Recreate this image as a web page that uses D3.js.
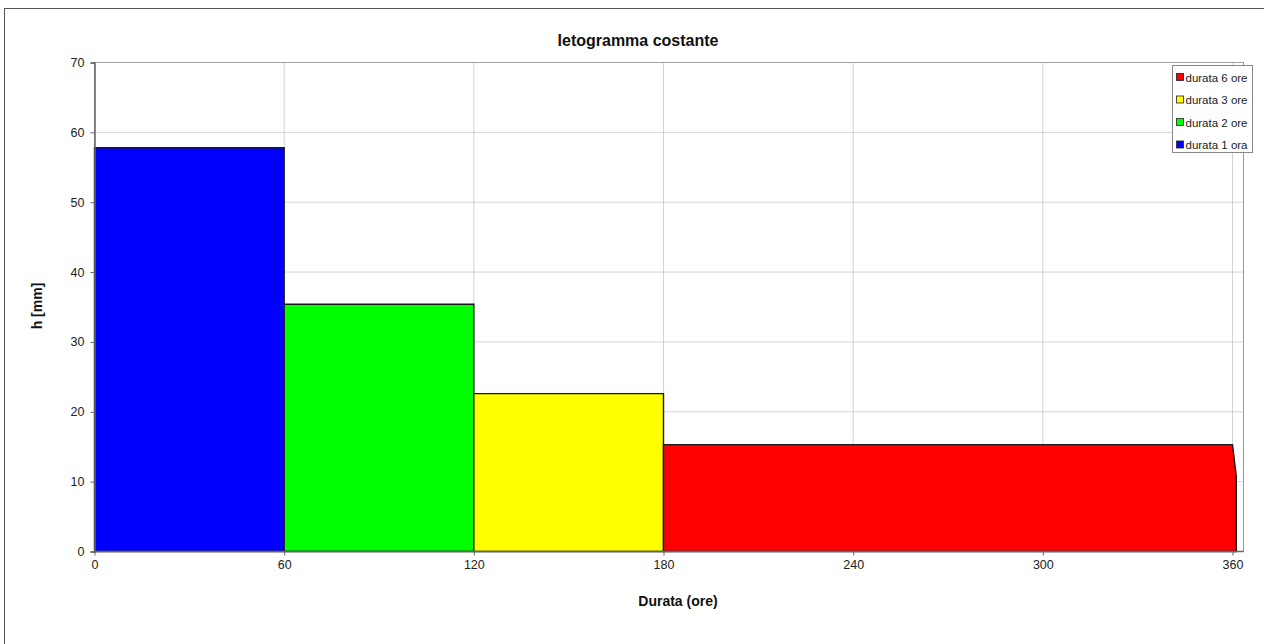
<!DOCTYPE html>
<html>
<head>
<meta charset="utf-8">
<script src="https://cdn.jsdelivr.net/npm/d3@7/dist/d3.min.js"></script>
<style>
  html, body { margin: 0; padding: 0; background: #fff; }
  svg { display: block; font-family: "Liberation Sans", Arial, sans-serif; }
</style>
</head>
<body>
<svg id="chart" width="1264" height="644"></svg>
<script>
// Rainfall hyetograph: one constant-intensity block per duration
const seriesNames = ["durata 1 ora", "durata 2 ore", "durata 3 ore", "durata 6 ore"];
const seriesColors = ["#0000ff", "#00ff00", "#ffff00", "#ff0000"];
// block outlines as [minutes, mm] vertices
const block1 = [[0, 0], [0, 57.8], [60, 57.8], [60, 0]];
const block2 = [[60, 0], [60, 35.4], [120, 35.4], [120, 0]];
const block3 = [[120, 0], [120, 22.6], [180, 22.6], [180, 0]];
const block6 = [[180, 0], [180, 15.3], [360, 15.3], [361.2, 10.8], [361.2, 0]];
const blocks = [block1, block2, block3, block6];
const legendOrder = [3, 2, 1, 0];
const xTicks = [0, 60, 120, 180, 240, 300, 360];
const yTicks = [0, 10, 20, 30, 40, 50, 60, 70];

const svg = d3.select("#chart");

// outer chart frame
svg.append("rect")
  .attr("x", 4.5).attr("y", 8.5).attr("width", 1270).attr("height", 650)
  .attr("fill", "#fff").attr("stroke", "#555").attr("stroke-width", 1);

const x = d3.scaleLinear().domain([0, 360]).range([94.5, 1232.5]);
const y = d3.scaleLinear().domain([0, 70]).range([551.5, 62.5]);
const plotRight = 1243.5;

// plot area frame
svg.append("rect")
  .attr("x", x(0)).attr("y", y(70))
  .attr("width", plotRight - x(0)).attr("height", y(0) - y(70))
  .attr("fill", "#fff").attr("stroke", "#999").attr("stroke-width", 1);

// gridlines
const grid = svg.append("g").attr("stroke", "#a8a8a8").attr("stroke-dasharray", "1,1");
grid.selectAll("line.h").data(yTicks.filter(d => d > 0)).join("line")
  .attr("x1", x(0)).attr("x2", plotRight)
  .attr("y1", d => y(d)).attr("y2", d => y(d));
grid.selectAll("line.v").data(xTicks.filter(d => d > 0)).join("line")
  .attr("x1", d => x(d)).attr("x2", d => x(d))
  .attr("y1", y(0)).attr("y2", y(70));

// blocks
const line = d3.line().x(d => x(d[0])).y(d => y(d[1]));
svg.append("g").selectAll("path").data(blocks).join("path")
  .attr("d", d => line(d) + "Z")
  .attr("fill", (d, i) => seriesColors[i])
  .attr("stroke", "#1a1a1a").attr("stroke-width", 1.4);

// axes
const xAxis = d3.axisBottom(x).tickValues(xTicks).tickSize(4).tickPadding(5);
const gx = svg.append("g").attr("transform", `translate(0,${y(0)})`).call(xAxis);
const yAxis = d3.axisLeft(y).tickValues(yTicks).tickSize(4).tickPadding(6);
const gy = svg.append("g").attr("transform", `translate(${x(0)},0)`).call(yAxis);
[gx, gy].forEach(g => {
  g.select(".domain").attr("stroke", "#666").attr("stroke-width", 1.5);
  g.selectAll(".tick line").attr("stroke", "#666");
  g.selectAll(".tick text").attr("fill", "#222")
    .style("font-family", "'Liberation Sans', Arial, sans-serif").style("font-size", "12.5px");
});
gx.select(".domain").attr("d", `M${x(0)},0H${plotRight}`);

// titles
svg.append("text").attr("x", 638).attr("y", 46).attr("text-anchor", "middle")
  .attr("font-size", "16px").attr("font-weight", "bold").attr("fill", "#111")
  .text("Ietogramma costante");
svg.append("text").attr("x", 678).attr("y", 606).attr("text-anchor", "middle")
  .attr("font-size", "14px").attr("font-weight", "bold").attr("fill", "#111")
  .text("Durata (ore)");
svg.append("text").attr("transform", "translate(42,306) rotate(-90)").attr("text-anchor", "middle")
  .attr("font-size", "14px").attr("font-weight", "bold").attr("fill", "#111")
  .text("h [mm]");

// legend
const lg = svg.append("g").attr("transform", "translate(1172.5,65.5)");
lg.append("rect").attr("width", 80).attr("height", 87)
  .attr("fill", "#fff").attr("stroke", "#888");
const items = lg.selectAll("g.item").data(legendOrder).join("g")
  .attr("transform", (d, i) => `translate(4,${12 + i * 22.5})`);
items.append("rect").attr("x", 0).attr("y", -4).attr("width", 7).attr("height", 7)
  .attr("fill", d => seriesColors[d]).attr("stroke", "#222").attr("stroke-width", 0.8);
items.append("text").attr("x", 9).attr("y", 4)
  .attr("font-size", "11.5px").attr("fill", "#222")
  .text(d => seriesNames[d]);
</script>
</body>
</html>
